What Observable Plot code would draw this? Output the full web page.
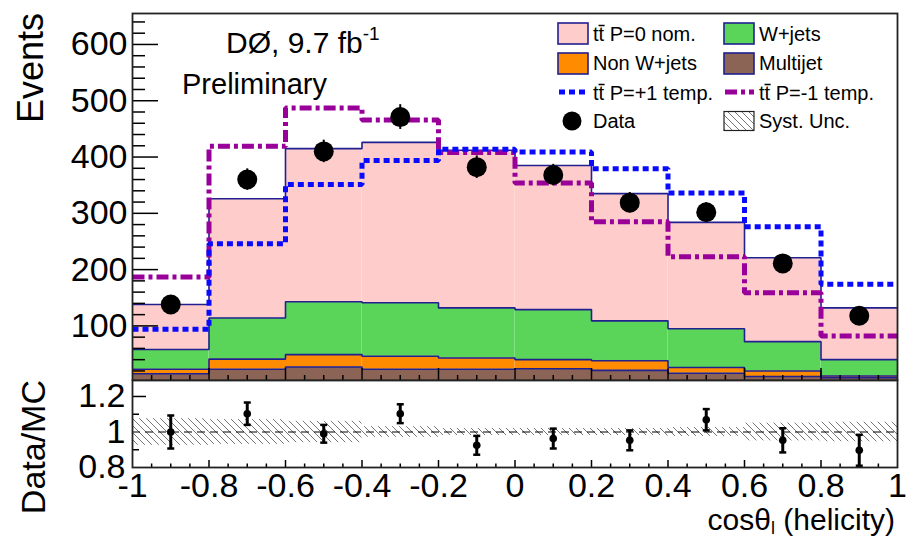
<!DOCTYPE html>
<html><head><meta charset="utf-8">
<script src="https://cdn.jsdelivr.net/npm/d3@7"></script>
<script src="https://cdn.jsdelivr.net/npm/@observablehq/plot@0.6"></script>
<style>
body{margin:0;background:#fff;}
#wrap{position:relative;width:906px;height:539px;overflow:hidden;background:#fff;font-family:"Liberation Sans",Arial,sans-serif;}
#wrap > svg{position:absolute;left:0;}
</style></head><body><div id="wrap"></div>
<script>
// ---------- data ----------
const binEdges = [-1, -0.8, -0.6, -0.4, -0.2, 0, 0.2, 0.4, 0.6, 0.8, 1];
const multijet = [15, 23, 27, 23, 23, 24, 21, 16, 10, 8];
const nonWjets = [8, 18, 22, 23, 20, 16, 17, 10, 10, 3];
const wjets = [35, 73, 94, 95, 89, 89, 71, 69, 52, 29];
const ttbarP0 = [80, 212, 272, 285, 280, 256, 226, 189, 149, 92];
const totalPplus1 = [94, 246, 351, 394, 414, 409, 379, 336, 276, 174];
const totalPminus1 = [187, 419, 487, 466, 408, 354, 285, 223, 159, 82];
const dataCounts = [138, 360, 410, 471, 382, 368, 319, 302, 211, 118];
const dataErr = [12, 19, 20, 22, 20, 19, 18, 17, 15, 11];
const ratio = [1.00, 1.103, 0.99, 1.103, 0.925, 0.963, 0.953, 1.069, 0.953, 0.897];
const ratioErr = [0.093, 0.063, 0.05, 0.053, 0.053, 0.056, 0.056, 0.06, 0.068, 0.087];
const systUnc = [0.075, 0.07, 0.06, 0.03, 0.02, 0.02, 0.02, 0.025, 0.05, 0.055];
const yTicksTop = [100, 200, 300, 400, 500, 600];
const yTicksBottom = [0.8, 1, 1.2];
const yTickLabelsBottom = ["0.8", "1", "1.2"];
const xTicks = [-1, -0.8, -0.6, -0.4, -0.2, 0, 0.2, 0.4, 0.6, 0.8, 1];
const xTickLabels = ["-1", "-0.8", "-0.6", "-0.4", "-0.2", "0", "0.2", "0.4", "0.6", "0.8", "1"];
const layerNames = ["Multijet", "Non W+jets", "W+jets", "tt P=0 nom."];
const layerColors = ["#8c6455", "#ff8c00", "#5ad55a", "#ffcccc"];
const outlineColor = "#20208f";

// ---------- derived tables ----------
const nb = binEdges.length - 1;
const bins = d3.range(nb).map(i => ({
  lo: binEdges[i], hi: binEdges[i + 1], mid: (binEdges[i] + binEdges[i + 1]) / 2,
  data: dataCounts[i], err: dataErr[i], ratio: ratio[i], rerr: ratioErr[i], syst: systUnc[i]
}));
const layers = [multijet, nonWjets, wjets, ttbarP0];
const stackRows = [];
const tops = layers.map(() => []);
for (let i = 0; i < nb; i++) {
  let c = 0;
  layers.forEach((arr, k) => {
    const y1 = c; c += arr[i];
    stackRows.push({lo: binEdges[i], hi: binEdges[i + 1], y1, y2: c, color: layerColors[k], name: layerNames[k]});
    tops[k].push(c);
  });
}
const steps = vals => vals.map((v, i) => ({x: binEdges[i], y: v})).concat([{x: binEdges[nb], y: vals[nb - 1]}]);

const W = 906, ML = 132, MR = 9;
const PW = W - ML - MR;
const font = "Liberation Sans, Arial, sans-serif";

// ---------- upper panel ----------
const H1 = 381, MT1 = 13, MB1 = 1, PH1 = H1 - MT1 - MB1;
const minorTop = d3.range(20, 641, 20).filter(v => v % 100 !== 0);
const xMinor = d3.range(-95, 100, 5).map(v => v / 100).filter(v => Math.abs(Math.round(v * 100)) % 20 !== 0);
const xMajorInner = xTicks.slice(1, -1);

const upper = Plot.plot({
  width: W, height: H1, marginLeft: ML, marginRight: MR, marginTop: MT1, marginBottom: MB1,
  style: {fontFamily: font, background: "none", color: "black"},
  x: {domain: [-1, 1], axis: null},
  y: {domain: [3, 655]},
  color: {type: "identity"},
  marks: [
    Plot.rect(stackRows, {x1: "lo", x2: "hi", y1: "y1", y2: "y2", fill: "color", clip: true}),
    ...tops.map(t => Plot.line(steps(t), {x: "x", y: "y", curve: "step-after", stroke: outlineColor, strokeWidth: 1.6, strokeLinecap: "butt", strokeLinejoin: "miter", clip: true})),
    Plot.line(steps(totalPminus1), {x: "x", y: "y", curve: "step-after", stroke: "#990099", strokeWidth: 5, strokeDasharray: "12,4,4,4", strokeLinecap: "butt", strokeLinejoin: "miter", clip: true}),
    Plot.line(steps(totalPplus1), {x: "x", y: "y", curve: "step-after", stroke: "#0a0aff", strokeWidth: 5, strokeDasharray: "6,4", strokeLinecap: "butt", strokeLinejoin: "miter", clip: true}),
    Plot.ruleX(bins, {x: "mid", y1: d => d.data - d.err, y2: d => d.data + d.err, stroke: "black", strokeWidth: 2}),
    Plot.dot(bins, {x: "mid", y: "data", r: 10, fill: "black"}),
    Plot.tickY(yTicksTop, {y: d => d, insetRight: PW - 26, stroke: "black", strokeWidth: 1.5}),
    Plot.tickY(minorTop, {y: d => d, insetRight: PW - 13, stroke: "black", strokeWidth: 1.5}),
    Plot.tickX(xMajorInner, {x: d => d, insetTop: PH1 - 12, stroke: "black", strokeWidth: 1.5}),
    Plot.tickX(xMinor, {x: d => d, insetTop: PH1 - 5, stroke: "black", strokeWidth: 1.5}),
    Plot.axisY(yTicksTop, {anchor: "left", tickSize: 0, tickPadding: 5, fontSize: 34, fill: "black", label: null}),
    Plot.frame({stroke: "#222", strokeWidth: 1.8})
  ]
});
upper.style.top = "0px";

// ---------- lower panel ----------
const H2 = 169, MT2 = 10, MB2 = 72, PH2 = H2 - MT2 - MB2;
const capSymbol = {draw(ctx, size) { const w = Math.sqrt(size / Math.PI); ctx.moveTo(-w, 0); ctx.lineTo(w, 0); }};
const lower = Plot.plot({
  width: W, height: H2, marginLeft: ML, marginRight: MR, marginTop: MT2, marginBottom: MB2,
  style: {fontFamily: font, background: "none", color: "black"},
  x: {domain: [-1, 1], label: null},
  y: {domain: [0.8, 1.29], label: null},
  marks: [
    Plot.rect(bins, {x1: "lo", x2: "hi", y1: d => 1 - d.syst, y2: d => 1 + d.syst, fill: "url(#hatch)"}),
    Plot.ruleY([1], {stroke: "black", strokeWidth: 1.2, strokeDasharray: "8,5"}),
    Plot.ruleX(bins, {x: "mid", y1: d => d.ratio - d.rerr, y2: d => d.ratio + d.rerr, stroke: "black", strokeWidth: 3}),
    Plot.dot(bins, {x: "mid", y: d => d.ratio - d.rerr, symbol: capSymbol, r: 3.5, stroke: "black", strokeWidth: 2.5, fill: "none"}),
    Plot.dot(bins, {x: "mid", y: d => d.ratio + d.rerr, symbol: capSymbol, r: 3.5, stroke: "black", strokeWidth: 2.5, fill: "none"}),
    Plot.dot(bins, {x: "mid", y: "ratio", r: 3.8, fill: "black"}),
    Plot.tickY([1.2], {y: d => d, insetRight: PW - 14, stroke: "black", strokeWidth: 1.5}),
    Plot.tickY([0.9, 1.1], {y: d => d, insetRight: PW - 7, stroke: "black", strokeWidth: 1.5}),
    Plot.tickX(xMajorInner, {x: d => d, insetTop: PH2 - 7, stroke: "black", strokeWidth: 1.5}),
    Plot.tickX(xMinor, {x: d => d, insetTop: PH2 - 3.5, stroke: "black", strokeWidth: 1.5}),
    Plot.axisX(xTicks, {anchor: "bottom", tickSize: 0, tickPadding: 5, fontSize: 34, fill: "black", label: null,
      tickFormat: d => xTickLabels[xTicks.indexOf(d)]}),
    Plot.axisY(yTicksBottom, {anchor: "left", tickSize: 0, tickPadding: 7, fontSize: 34, fill: "black", label: null,
      tickFormat: d => yTickLabelsBottom[yTicksBottom.indexOf(d)]}),
    Plot.frame({stroke: "#222", strokeWidth: 1.8})
  ]
});
lower.style.top = "370px";
// hatch pattern
const pat = d3.select(lower).insert("defs", ":first-child")
  .append("pattern").attr("id", "hatch").attr("patternUnits", "userSpaceOnUse")
  .attr("width", 7).attr("height", 7);
pat.append("path").attr("d", "M-1,-1L8,8M-1,6L1,8M6,-1L8,1")
  .attr("stroke", "#777").attr("stroke-width", 1).attr("fill", "none");

const wrap = document.getElementById("wrap");
wrap.appendChild(upper);
wrap.appendChild(lower);

// ---------- overlay texts & legend ----------
const ov = d3.select(wrap).append("svg").attr("width", W).attr("height", 539)
  .style("top", "0px").style("font-family", font);

// axis titles
ov.append("text").attr("transform", "translate(43,13) rotate(-90)").attr("text-anchor", "end")
  .attr("font-size", 36).text("Events");
ov.append("text").attr("transform", "translate(45,380) rotate(-90)").attr("text-anchor", "end")
  .attr("font-size", 34).text("Data/MC");
const xt = ov.append("text").attr("x", 895).attr("y", 530).attr("text-anchor", "end").attr("font-size", 30);
xt.append("tspan").text("cosθ");
xt.append("tspan").attr("font-size", 18).attr("dy", 4).text("l");
xt.append("tspan").attr("dy", -4).text(" (helicity)");

// annotations
const an = ov.append("text").attr("x", 226).attr("y", 53).attr("font-size", 30);
an.append("tspan").text("DØ, 9.7 fb");
an.append("tspan").attr("font-size", 19).attr("dy", -13).text("-1");
ov.append("text").attr("x", 182).attr("y", 94).attr("font-size", 29).text("Preliminary");

// legend
const legendEntries = [
  {col: 0, row: 0, kind: "box", fill: layerColors[3], stroke: outlineColor, tt: true, label: " P=0 nom."},
  {col: 1, row: 0, kind: "box", fill: layerColors[2], stroke: outlineColor, label: "W+jets"},
  {col: 0, row: 1, kind: "box", fill: layerColors[1], stroke: outlineColor, label: "Non W+jets"},
  {col: 1, row: 1, kind: "box", fill: layerColors[0], stroke: outlineColor, label: "Multijet"},
  {col: 0, row: 2, kind: "line", stroke: "#0a0aff", dash: "6,4", tt: true, label: " P=+1 temp."},
  {col: 1, row: 2, kind: "line", stroke: "#990099", dash: "12,4,4,4", tt: true, label: " P=-1 temp."},
  {col: 0, row: 3, kind: "dot", label: "Data"},
  {col: 1, row: 3, kind: "hatch", label: "Syst. Unc."}
];
const colX = [558, 724], rowY = [33.5, 63.5, 92, 121], baseY = [41, 70, 100, 128];
const lg = ov.append("g");
legendEntries.forEach(e => {
  const x = colX[e.col], cy = rowY[e.row];
  if (e.kind === "box") {
    lg.append("rect").attr("x", x).attr("y", cy - 10.5).attr("width", 30).attr("height", 21)
      .attr("fill", e.fill).attr("stroke", e.stroke).attr("stroke-width", 1.6);
  } else if (e.kind === "line") {
    lg.append("line").attr("x1", x + 1).attr("x2", x + 30).attr("y1", cy).attr("y2", cy)
      .attr("stroke", e.stroke).attr("stroke-width", 5).attr("stroke-dasharray", e.dash);
  } else if (e.kind === "dot") {
    lg.append("circle").attr("cx", x + 14).attr("cy", cy).attr("r", 9.5).attr("fill", "black");
  } else {
    lg.append("rect").attr("x", x).attr("y", cy - 9.5).attr("width", 30).attr("height", 19)
      .attr("fill", "url(#hatch)").attr("stroke", "#222").attr("stroke-width", 1.2);
  }
  const t = lg.append("text").attr("x", x + 35).attr("y", baseY[e.row]).attr("font-size", 20);
  t.text((e.tt ? "tt" : "") + e.label);
  if (e.tt) {
    const node = t.node();
    const x0 = node.getStartPositionOfChar(1).x, x1 = node.getEndPositionOfChar(1).x;
    lg.append("line").attr("x1", x0).attr("x2", x1 + 0.5)
      .attr("y1", baseY[e.row] - 15.5).attr("y2", baseY[e.row] - 15.5)
      .attr("stroke", "black").attr("stroke-width", 1.5);
  }
});
</script></body></html>
